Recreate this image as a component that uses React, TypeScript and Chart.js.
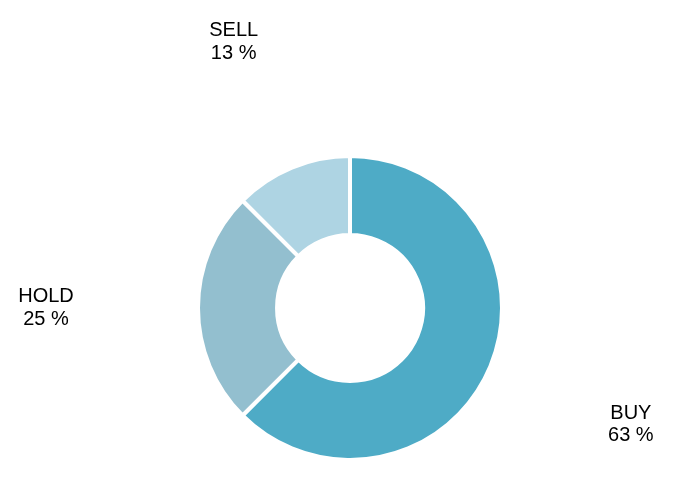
import React, { useEffect, useRef } from 'react';
import { Chart, DoughnutController, ArcElement } from 'chart.js';

Chart.register(DoughnutController, ArcElement);

const ratings = ['BUY', 'HOLD', 'SELL'];
const shares = [62.5, 25, 12.5];
const colours = ['#4eabc6', '#93bfcf', '#aed4e3'];

// labels sit out at twice the ring radius, kept clear of the top edge
const outsideLabels = {
  id: 'outsideLabels',
  afterDraw(chart: any) {
    const ctx = chart.ctx;
    const meta = chart.getDatasetMeta(0);
    ctx.save();
    ctx.font = '20px "Liberation Sans", Arial, sans-serif';
    ctx.fillStyle = '#000';
    ctx.textAlign = 'center';
    ctx.textBaseline = 'middle';
    meta.data.forEach((arc: any, i: number) => {
      const mid = (arc.startAngle + arc.endAngle) / 2;
      const r = arc.outerRadius * 2;
      const x = arc.x + Math.cos(mid) * r;
      const y = Math.max(arc.y + Math.sin(mid) * r, 42);
      ctx.fillText(ratings[i], x, y - 11.3);
      ctx.fillText(Math.round(shares[i]) + ' %', x, y + 11.3);
    });
    ctx.restore();
  }
};

export default function App() {
  const ref = useRef<HTMLCanvasElement | null>(null);
  useEffect(() => {
    document.body.style.margin = '0';
    if (!ref.current) return;
    const chart = new Chart(ref.current, {
      type: 'doughnut',
      data: {
        labels: ratings,
        datasets: [{
          data: shares,
          backgroundColor: colours,
          borderColor: '#fff',
          borderWidth: 4,
          hoverOffset: 0
        }]
      },
      options: {
        animation: false,
        responsive: false,
        cutout: '48%',
        layout: { padding: { top: 154, bottom: 24, left: 100, right: 76 } },
        plugins: { legend: { display: false }, tooltip: { enabled: false } }
      },
      plugins: [outsideLabels]
    });
    return () => chart.destroy();
  }, []);
  return <canvas ref={ref} width={676} height={486} style={{ display: 'block' }} />;
}
